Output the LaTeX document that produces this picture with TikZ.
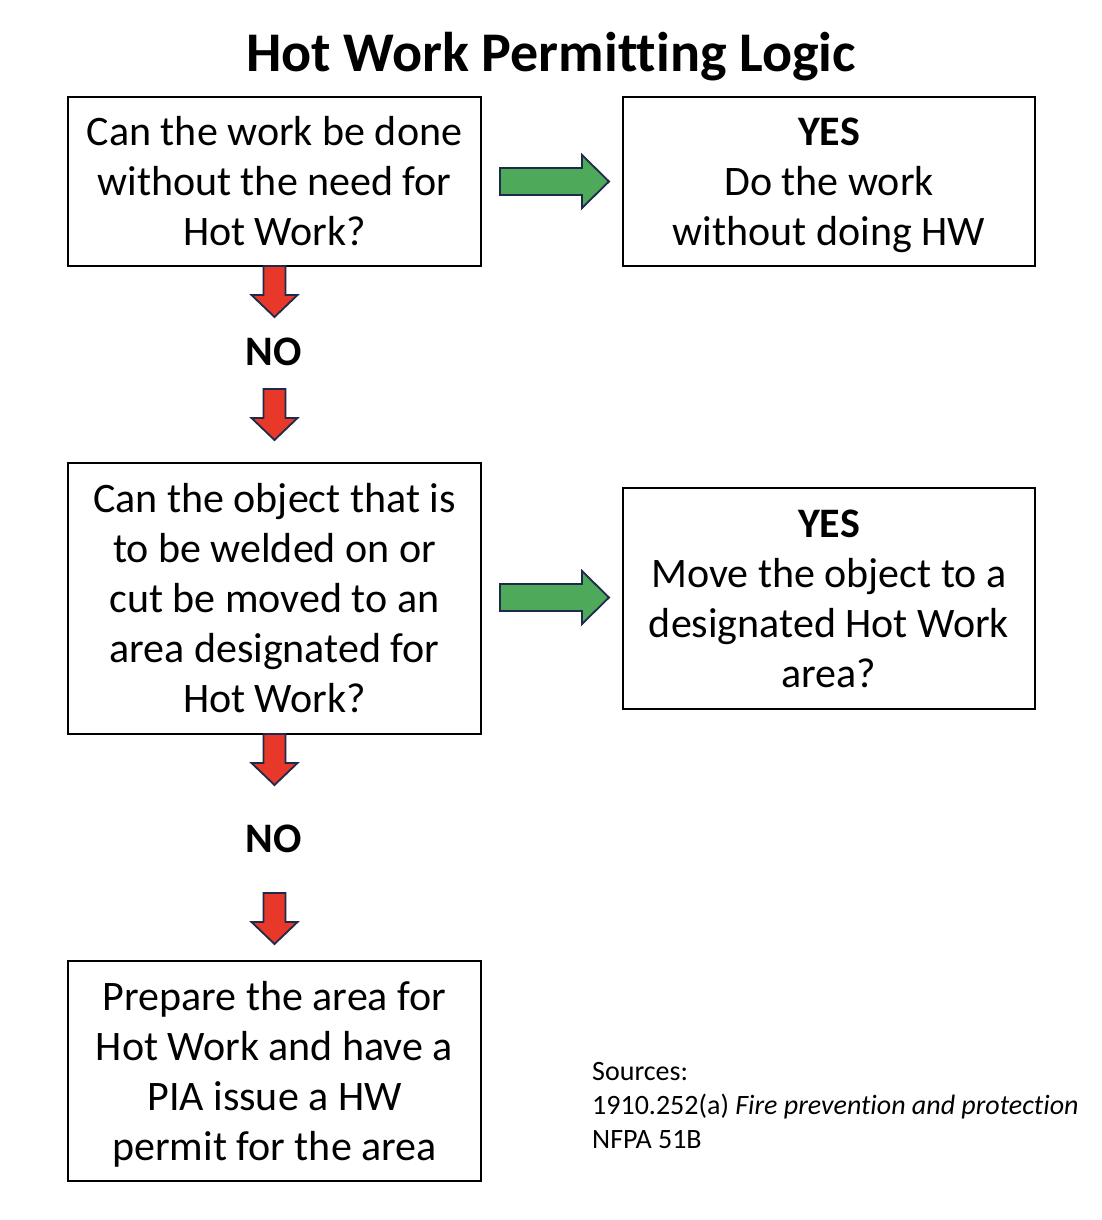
\documentclass[tikz,border=0pt]{standalone}
\usepackage{fontspec}
\setmainfont{Carlito}[Ligatures={NoCommon}]
\definecolor{arrgreen}{HTML}{4EAA5A}
\definecolor{arrred}{HTML}{E8382A}
\definecolor{arrline}{HTML}{1F2A4A}
\newcommand\topstrut{\rule{0pt}{43pt}}
\newcommand\redarr[2]{%
  \begin{scope}[shift={(#1,#2)}]
    \draw[redarrow] (-11,0) -- (11,0) -- (11,29) -- (23,29) -- (0,51) -- (-23,29) -- (-11,29) -- cycle;
  \end{scope}}
\newcommand\greenarr[2]{%
  \begin{scope}[shift={(#1,#2)}]
    \draw[greenarrow] (0,-13.5) -- (82,-13.5) -- (82,-26.5) -- (109,0) -- (82,26.5) -- (82,13.5) -- (0,13.5) -- cycle;
  \end{scope}}
\begin{document}
\begin{tikzpicture}[x=1pt,y=-1pt,
  box/.style={draw=black, line width=1.6pt, align=center, inner sep=0pt,
    font=\fontsize{42}{50}\selectfont},
  redarrow/.style={fill=arrred, draw=arrline, line width=1.8pt, line join=miter},
  greenarrow/.style={fill=arrgreen, draw=arrline, line width=1.8pt, line join=miter},
  lbl/.style={font=\fontsize{42}{50}\selectfont\bfseries, inner sep=0pt}]
\useasboundingbox[fill=white] (0,0) rectangle (1102,1220);
\node[font=\fontsize{56}{64}\selectfont\bfseries, inner sep=0pt] (title) at (551,57) {Hot Work Permitting Logic};
\node[box, minimum width=413pt, minimum height=169pt] (q1) at (274.5,181.5)
  {\topstrut Can the work be done\\without the need for\\Hot Work?\strut};
\node[box, minimum width=412pt, minimum height=169pt] (y1) at (829,181.5)
  {\topstrut\textbf{YES}\\Do the work\\without doing HW\strut};
\node[box, minimum width=413pt, minimum height=271pt] (q2) at (274.5,598.5)
  {\topstrut Can the object that is\\to be welded on or\\cut be moved to an\\area designated for\\Hot Work?\strut};
\node[box, minimum width=412pt, minimum height=221pt] (y2) at (829,598.5)
  {\topstrut\textbf{YES}\\Move the object to a\\designated Hot Work\\area?\strut};
\node[box, minimum width=413pt, minimum height=220pt] (a3) at (274.5,1071)
  {\topstrut Prepare the area for\\Hot Work and have a\\PIA issue a HW\\permit for the area\strut};
\node[lbl] (no1) at (274,352) {NO};
\node[lbl] (no2) at (274,839) {NO};
\node[align=left, anchor=north west, inner sep=0pt, font=\fontsize{28}{34}\selectfont] (src) at (592,1062)
  {Sources:\\1910.252(a) \textit{Fire prevention and protection}\\NFPA 51B};
\greenarr{500}{181.5}
\greenarr{500}{597.5}
\redarr{274.5}{266}
\redarr{274.5}{389}
\redarr{274.5}{734}
\redarr{274.5}{893}
\end{tikzpicture}
\end{document}
